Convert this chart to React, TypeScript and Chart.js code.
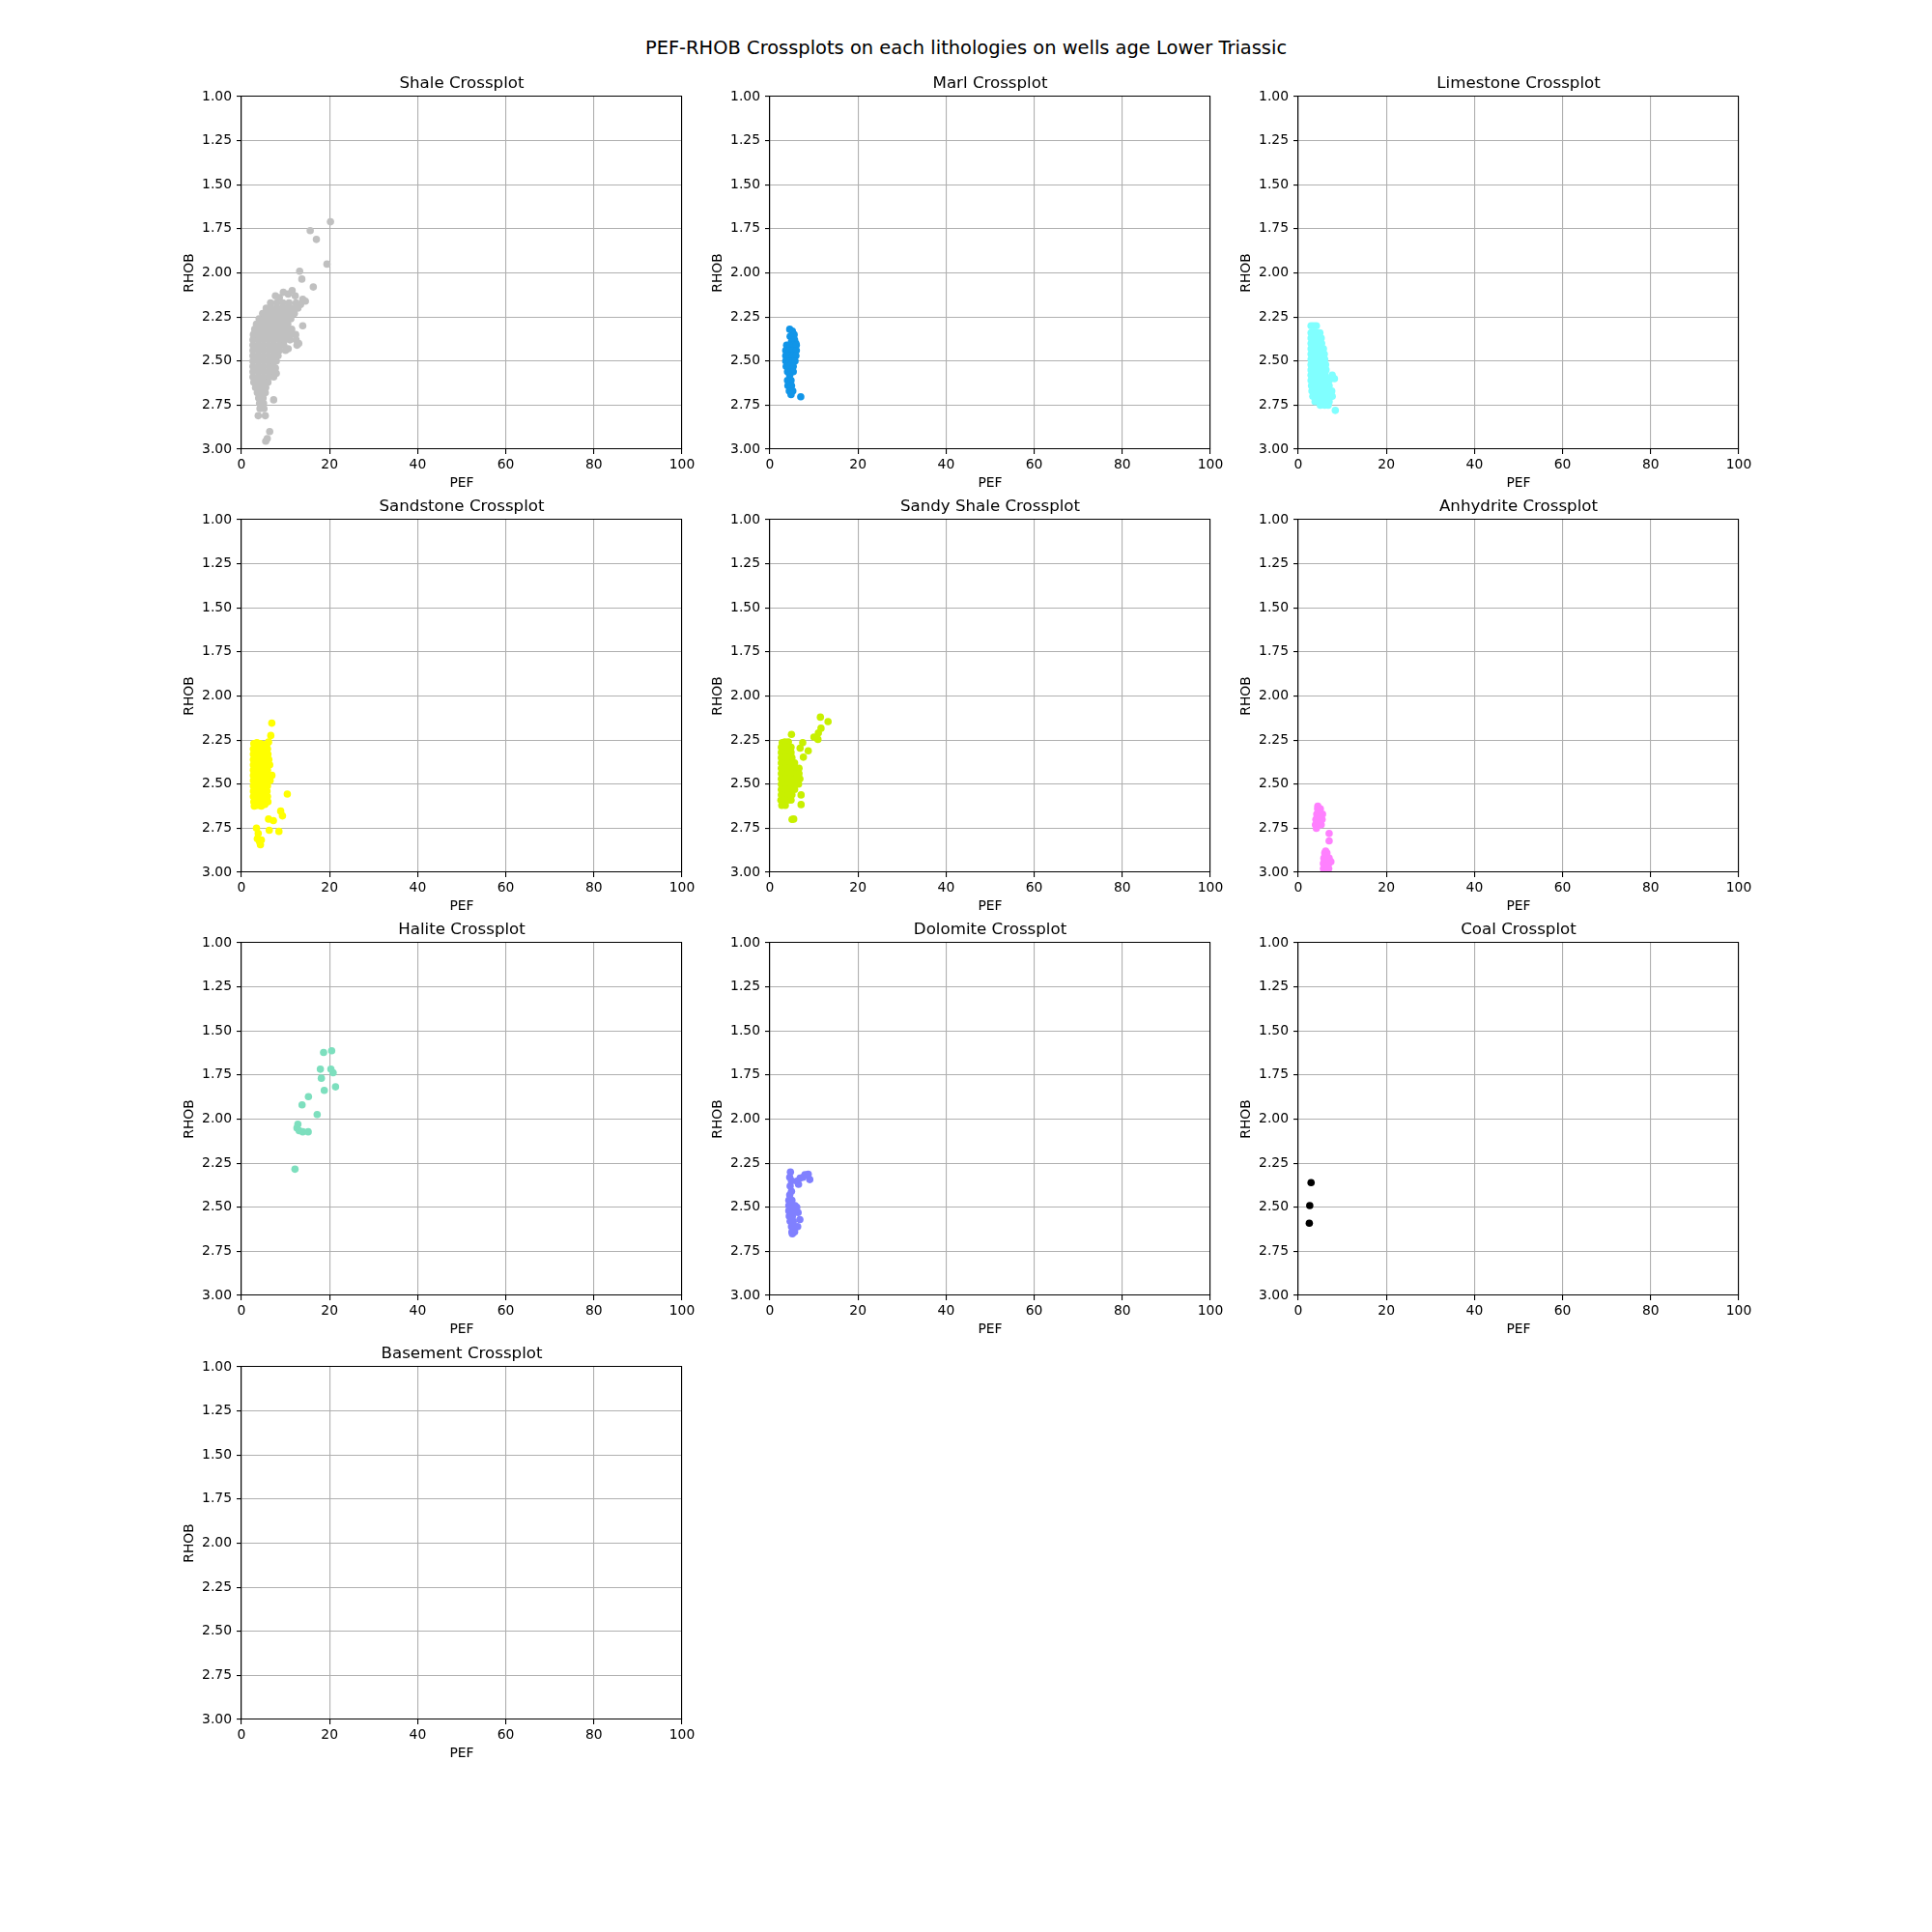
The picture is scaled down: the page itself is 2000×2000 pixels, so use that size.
import React, { useEffect, useRef } from "react";
import { Chart, registerables } from "chart.js";

Chart.register(...registerables);

const FONT = "'DejaVu Sans', sans-serif";

const suptitle = "PEF-RHOB Crossplots on each lithologies on wells age Lower Triassic";
const lithologies = ["Shale", "Marl", "Limestone", "Sandstone", "Sandy Shale", "Anhydrite", "Halite", "Dolomite", "Coal", "Basement"];
const colors = ["#c0c0c0", "#1195e8", "#80ffff", "#ffff00", "#c8f000", "#ff80ff", "#7ddfbe", "#8080ff", "#000000", "#ef138a"];
const pefTicks = [0, 20, 40, 60, 80, 100];
const rhobTicks = [1.0, 1.25, 1.5, 1.75, 2.0, 2.25, 2.5, 2.75, 3.0];
const xLabel = "PEF";
const yLabel = "RHOB";

// [PEF, RHOB]
const shalePoints: [number, number][] = [
  [20.2, 1.71], [15.6, 1.76], [17.0, 1.81], [19.4, 1.95], [13.2, 1.99], [13.7, 2.035], [16.3, 2.08],
  [11.5, 2.1], [9.5, 2.11], [10.6, 2.12], [7.7, 2.13], [12.2, 2.13], [8.6, 2.14], [13.9, 2.15], [14.5, 2.16],
  [6.6, 2.17], [8.0, 2.17], [9.4, 2.17], [10.8, 2.17], [12.4, 2.17], [13.4, 2.18],
  [5.6, 2.2], [6.8, 2.2], [8.0, 2.2], [9.2, 2.2], [10.4, 2.2], [11.6, 2.2], [12.8, 2.2],
  [4.8, 2.23], [6.0, 2.23], [7.2, 2.23], [8.4, 2.23], [9.6, 2.23], [10.8, 2.23], [12.0, 2.23],
  [4.0, 2.26], [5.2, 2.26], [6.4, 2.26], [7.6, 2.26], [8.8, 2.26], [10.0, 2.26], [11.2, 2.26],
  [3.4, 2.29], [4.6, 2.29], [5.8, 2.29], [7.0, 2.29], [8.2, 2.29], [9.4, 2.29], [10.5, 2.29],
  [13.9, 2.3],
  [3.0, 2.32], [4.2, 2.32], [5.4, 2.32], [6.6, 2.32], [7.8, 2.32], [9.0, 2.32], [10.2, 2.32], [11.4, 2.32],
  [2.7, 2.35], [3.9, 2.35], [5.1, 2.35], [6.3, 2.35], [7.5, 2.35], [8.7, 2.35], [9.9, 2.35], [11.1, 2.35], [12.3, 2.35],
  [2.6, 2.38], [3.8, 2.38], [5.0, 2.38], [6.2, 2.38], [7.4, 2.38], [8.6, 2.38], [9.8, 2.38], [11.0, 2.38], [12.4, 2.38],
  [2.6, 2.41], [3.8, 2.41], [5.0, 2.41], [6.2, 2.41], [7.4, 2.41], [8.6, 2.41], [9.6, 2.41], [12.6, 2.41], [13.0, 2.4],
  [2.6, 2.44], [3.8, 2.44], [5.0, 2.44], [6.2, 2.44], [7.4, 2.44], [8.6, 2.44], [10.0, 2.44], [10.6, 2.43],
  [2.6, 2.47], [3.8, 2.47], [5.0, 2.47], [6.2, 2.47], [7.4, 2.47], [8.3, 2.47],
  [2.6, 2.5], [3.8, 2.5], [5.0, 2.5], [6.2, 2.5], [7.4, 2.5], [7.9, 2.5],
  [2.6, 2.53], [3.8, 2.53], [5.0, 2.53], [6.2, 2.53], [7.2, 2.53], [7.7, 2.54],
  [2.6, 2.56], [3.8, 2.56], [5.0, 2.56], [6.2, 2.56], [7.4, 2.56], [7.9, 2.57],
  [2.6, 2.59], [3.8, 2.59], [5.0, 2.59], [6.2, 2.59], [7.3, 2.59],
  [2.8, 2.62], [4.0, 2.62], [5.2, 2.62], [6.0, 2.62],
  [3.2, 2.65], [4.4, 2.65], [5.5, 2.65],
  [3.6, 2.68], [4.6, 2.68], [5.4, 2.68],
  [3.9, 2.71], [4.9, 2.71], [7.3, 2.72],
  [4.1, 2.74], [5.0, 2.74], [4.2, 2.77], [5.1, 2.77],
  [3.8, 2.81], [5.4, 2.81], [6.4, 2.9], [5.85, 2.94], [5.5, 2.955],
];

const marlPoints: [number, number][] = [
  [4.5, 2.32], [5.1, 2.33], [5.5, 2.35], [4.6, 2.36], [5.6, 2.38], [5.9, 2.4], [4.9, 2.39],
  [3.8, 2.41], [4.6, 2.41], [5.4, 2.41], [6.0, 2.41],
  [3.6, 2.44], [4.4, 2.44], [5.2, 2.44], [6.0, 2.44],
  [3.6, 2.47], [4.4, 2.47], [5.2, 2.47], [5.9, 2.47],
  [3.6, 2.5], [4.4, 2.5], [5.2, 2.5], [5.7, 2.5],
  [3.7, 2.53], [4.5, 2.53], [5.3, 2.53],
  [4.0, 2.56], [4.8, 2.56], [5.3, 2.56], [4.5, 2.58],
  [4.0, 2.61], [4.8, 2.61], [4.1, 2.64], [4.9, 2.64],
  [4.4, 2.67], [5.2, 2.67], [4.8, 2.69], [7.0, 2.703],
];

const limestonePoints: [number, number][] = [
  [2.9, 2.3], [3.5, 2.3], [4.1, 2.3],
  [2.9, 2.34], [3.7, 2.34], [4.5, 2.34], [4.9, 2.34],
  [2.9, 2.37], [3.7, 2.37], [4.5, 2.37], [5.2, 2.37],
  [2.9, 2.4], [3.7, 2.4], [4.5, 2.4], [5.3, 2.4],
  [2.9, 2.43], [3.7, 2.43], [4.5, 2.43], [5.3, 2.43], [5.7, 2.43],
  [2.9, 2.46], [3.7, 2.46], [4.5, 2.46], [5.3, 2.46], [5.9, 2.46],
  [2.9, 2.49], [3.7, 2.49], [4.5, 2.49], [5.3, 2.49], [6.0, 2.49],
  [2.9, 2.52], [3.7, 2.52], [4.5, 2.52], [5.3, 2.52], [6.2, 2.52],
  [2.9, 2.55], [3.7, 2.55], [4.5, 2.55], [5.3, 2.55], [6.1, 2.55], [6.3, 2.55],
  [2.9, 2.58], [3.7, 2.58], [4.5, 2.58], [5.3, 2.58], [6.1, 2.58], [7.7, 2.58],
  [8.2, 2.6], [6.8, 2.6],
  [2.9, 2.61], [3.7, 2.61], [4.5, 2.61], [5.3, 2.61], [6.1, 2.61], [7.0, 2.61],
  [3.0, 2.64], [3.8, 2.64], [4.6, 2.64], [5.4, 2.64], [6.2, 2.64], [7.0, 2.64],
  [3.1, 2.67], [3.9, 2.67], [4.7, 2.67], [5.5, 2.67], [6.3, 2.67], [7.1, 2.67], [7.6, 2.67],
  [3.3, 2.7], [4.1, 2.7], [4.9, 2.7], [5.7, 2.7], [6.5, 2.7], [7.3, 2.7], [7.7, 2.7],
  [3.8, 2.73], [4.6, 2.73], [5.4, 2.73], [6.2, 2.73], [7.0, 2.73],
  [5.0, 2.75], [6.0, 2.75], [6.8, 2.75], [8.4, 2.78],
];

const sandstonePoints: [number, number][] = [
  [6.88, 2.154], [6.65, 2.224], [6.14, 2.261],
  [2.8, 2.27], [3.5, 2.265], [4.3, 2.27], [5.1, 2.275], [5.7, 2.28],
  [2.7, 2.3], [3.5, 2.3], [4.3, 2.3], [5.1, 2.3], [5.9, 2.3],
  [2.7, 2.33], [3.5, 2.33], [4.3, 2.33], [5.1, 2.33], [6.0, 2.33],
  [2.7, 2.36], [3.5, 2.36], [4.3, 2.36], [5.1, 2.36], [5.9, 2.36], [6.2, 2.36],
  [2.7, 2.39], [3.5, 2.39], [4.3, 2.39], [5.1, 2.39], [5.9, 2.39], [6.4, 2.39],
  [2.7, 2.42], [3.5, 2.42], [4.3, 2.42], [5.1, 2.42], [5.9, 2.42],
  [2.7, 2.45], [3.5, 2.45], [4.3, 2.45], [5.1, 2.45], [5.9, 2.45], [6.9, 2.45],
  [2.7, 2.48], [3.5, 2.48], [4.3, 2.48], [5.1, 2.48], [5.9, 2.48], [6.5, 2.48],
  [2.7, 2.51], [3.5, 2.51], [4.3, 2.51], [5.1, 2.51], [5.9, 2.51],
  [2.7, 2.54], [3.5, 2.54], [4.3, 2.54], [5.1, 2.54], [5.8, 2.54],
  [2.7, 2.57], [3.5, 2.57], [4.3, 2.57], [5.1, 2.57], [5.9, 2.57],
  [2.8, 2.6], [3.6, 2.6], [4.4, 2.6], [5.2, 2.6], [6.0, 2.6],
  [2.9, 2.625], [3.7, 2.62], [4.5, 2.625], [5.3, 2.615],
  [10.4, 2.556], [8.9, 2.653], [9.3, 2.68], [6.14, 2.698], [7.24, 2.707], [6.3, 2.762], [8.5, 2.768],
  [3.4, 2.749], [3.8, 2.78], [3.6, 2.81], [4.1, 2.826], [4.5, 2.817], [4.3, 2.844],
];

const sandyShalePoints: [number, number][] = [
  [11.46, 2.12], [13.2, 2.145], [11.6, 2.183], [11.0, 2.21], [10.0, 2.233], [10.9, 2.246],
  [4.9, 2.218], [7.45, 2.265], [6.86, 2.296], [8.7, 2.311], [7.6, 2.347],
  [2.8, 2.265], [3.4, 2.26], [4.2, 2.26],
  [2.6, 2.29], [3.4, 2.29], [4.2, 2.29], [4.8, 2.29],
  [2.6, 2.32], [3.4, 2.32], [4.2, 2.32], [4.8, 2.32],
  [2.6, 2.35], [3.4, 2.35], [4.2, 2.35], [5.0, 2.35],
  [2.6, 2.38], [3.4, 2.38], [4.2, 2.38], [5.0, 2.38], [5.6, 2.38],
  [2.6, 2.41], [3.4, 2.41], [4.2, 2.41], [5.0, 2.41], [5.8, 2.41], [6.6, 2.41],
  [2.6, 2.44], [3.4, 2.44], [4.2, 2.44], [5.0, 2.44], [5.8, 2.44], [6.6, 2.44],
  [2.6, 2.47], [3.4, 2.47], [4.2, 2.47], [5.0, 2.47], [5.8, 2.47], [6.8, 2.47],
  [2.6, 2.5], [3.4, 2.5], [4.2, 2.5], [5.0, 2.5], [5.8, 2.5], [6.5, 2.5],
  [2.6, 2.53], [3.4, 2.53], [4.2, 2.53], [5.0, 2.53], [5.6, 2.53],
  [2.6, 2.56], [3.4, 2.56], [4.2, 2.56], [5.0, 2.56],
  [2.5, 2.59], [3.3, 2.59], [4.1, 2.59], [4.8, 2.59],
  [2.7, 2.62], [3.5, 2.62],
  [7.08, 2.561], [7.08, 2.616], [5.4, 2.698], [5.03, 2.7],
];

const anhydritePoints: [number, number][] = [
  [4.43, 2.625], [4.4, 2.64], [5.0, 2.64],
  [4.2, 2.67], [4.9, 2.67], [5.5, 2.67],
  [4.0, 2.7], [4.7, 2.7], [5.4, 2.7],
  [3.9, 2.73], [4.6, 2.73], [5.2, 2.73], [4.1, 2.75],
  [7.0, 2.78], [7.0, 2.822],
  [6.2, 2.88], [6.0, 2.89], [6.5, 2.89],
  [5.8, 2.92], [6.4, 2.92], [7.0, 2.92],
  [5.7, 2.95], [6.3, 2.95], [6.9, 2.95], [7.4, 2.94],
  [5.7, 2.98], [6.3, 2.98], [6.9, 2.98],
];

const halitePoints: [number, number][] = [
  [18.64, 1.622], [20.47, 1.612], [17.9, 1.717], [20.3, 1.717], [20.8, 1.737], [18.13, 1.768],
  [21.35, 1.817], [18.79, 1.837], [15.2, 1.873], [13.75, 1.919], [17.18, 1.974], [12.8, 2.029],
  [12.6, 2.05], [13.1, 2.066], [13.9, 2.072], [15.14, 2.072], [12.14, 2.284],
];

const dolomitePoints: [number, number][] = [
  [4.66, 2.3], [4.5, 2.33], [4.9, 2.35], [4.6, 2.38], [4.9, 2.41], [4.5, 2.43],
  [6.13, 2.352], [6.86, 2.334], [7.96, 2.316], [8.7, 2.312], [9.05, 2.343], [7.5, 2.33], [6.5, 2.37],
  [4.3, 2.46], [5.0, 2.46],
  [4.3, 2.49], [5.0, 2.49], [5.7, 2.49], [6.1, 2.5],
  [4.3, 2.52], [5.0, 2.52], [5.8, 2.52], [6.4, 2.53],
  [4.4, 2.55], [5.1, 2.55], [6.8, 2.57],
  [4.6, 2.58], [5.3, 2.58],
  [4.9, 2.61], [5.6, 2.61], [6.3, 2.61],
  [5.0, 2.64], [5.6, 2.64], [5.1, 2.65],
];

const coalPoints: [number, number][] = [
  [2.9, 2.36], [2.6, 2.49], [2.5, 2.59],
];

const basementPoints: [number, number][] = [];

const pointSets = [shalePoints, marlPoints, limestonePoints, sandstonePoints, sandyShalePoints, anhydritePoints, halitePoints, dolomitePoints, coalPoints, basementPoints];

// layout (figure pixels)
const COL_LEFT = [250, 797, 1344];
const ROW_TOP = [100, 538, 976, 1415];
const AX_W = 456;
const AX_H = 365;
const M_LEFT = 80;
const M_TOP = 40;
const M_RIGHT = 30;
const M_BOTTOM = 55;

function alignPx(p: number, w: number) {
  const h = w / 2;
  return Math.round(p - h) + h;
}

const framePlugin = {
  id: "frame",
  afterDatasetsDraw(chart: any) {
    const { ctx, chartArea: a } = chart;
    const w = 1.1;
    const l = alignPx(a.left, w);
    const r = alignPx(a.right, w);
    const t = alignPx(a.top, w);
    const b = alignPx(a.bottom, w);
    ctx.save();
    ctx.strokeStyle = "#000";
    ctx.lineWidth = w;
    ctx.beginPath();
    ctx.rect(l, t, r - l, b - t);
    ctx.stroke();
    ctx.restore();
  },
};

function Crossplot({ index }: { index: number }) {
  const ref = useRef<HTMLCanvasElement>(null);
  const col = index % 3;
  const row = Math.floor(index / 3);
  const left = COL_LEFT[col] - M_LEFT;
  const top = ROW_TOP[row] - M_TOP;
  const W = M_LEFT + AX_W + M_RIGHT;
  const H = M_TOP + AX_H + M_BOTTOM;

  useEffect(() => {
    const tickFont = { family: FONT, size: 13.89, lineHeight: 1.2 };
    const chart = new Chart(ref.current as HTMLCanvasElement, {
      type: "scatter",
      data: {
        datasets: [
          {
            data: pointSets[index].map(([x, y]) => ({ x, y })),
            backgroundColor: colors[index],
            borderWidth: 0,
            pointRadius: 3.8,
            pointHoverRadius: 3.8,
          },
        ],
      },
      options: {
        responsive: false,
        animation: false,
        events: [],
        layout: { padding: { left: 0, top: 0, right: M_RIGHT, bottom: 0 } },
        plugins: {
          legend: { display: false },
          tooltip: { enabled: false },
          title: {
            display: true,
            fullSize: false,
            text: lithologies[index] + " Crossplot",
            color: "#000",
            font: { family: FONT, size: 16.67, weight: "normal", lineHeight: 1.2 },
            padding: { top: 16.7, bottom: 3.3 },
          },
        },
        scales: {
          x: {
            type: "linear",
            position: "bottom",
            min: 0,
            max: 100,
            afterFit: (s: any) => {
              s.height = M_BOTTOM;
            },
            afterBuildTicks: (s: any) => {
              s.ticks = pefTicks.map((v) => ({ value: v }));
            },
            ticks: {
              color: "#000",
              font: tickFont,
              padding: 3,
              maxRotation: 0,
              autoSkip: false,
              callback: (v: any) => String(v),
            },
            grid: { color: "#b0b0b0", lineWidth: 1.1, tickColor: "#000", tickLength: 5, tickWidth: 1.1 },
            border: { color: "#000", width: 1.1 },
            title: {
              display: true,
              text: xLabel,
              color: "#000",
              font: tickFont,
              padding: { top: 0, bottom: 11.2 },
            },
          },
          y: {
            type: "linear",
            position: "left",
            reverse: true,
            min: 1,
            max: 3,
            afterFit: (s: any) => {
              s.width = M_LEFT;
            },
            afterBuildTicks: (s: any) => {
              s.ticks = rhobTicks.map((v) => ({ value: v }));
            },
            ticks: {
              color: "#000",
              font: tickFont,
              padding: 5,
              autoSkip: false,
              callback: (v: any) => Number(v).toFixed(2),
            },
            grid: { color: "#b0b0b0", lineWidth: 1.1, tickColor: "#000", tickLength: 5, tickWidth: 1.1 },
            border: { color: "#000", width: 1.1 },
            title: {
              display: true,
              text: yLabel,
              color: "#000",
              font: tickFont,
              padding: { top: 18, bottom: 0 },
            },
          },
        },
      } as any,
      plugins: [framePlugin],
    });
    return () => chart.destroy();
  }, [index]);

  return (
    <canvas
      ref={ref}
      width={W}
      height={H}
      style={{ position: "absolute", left, top, width: W, height: H }}
    />
  );
}

export default function App() {
  return (
    <div style={{ position: "absolute", left: 0, top: 0, width: 2000, height: 2000, background: "#fff" }}>
      <div
        style={{
          position: "absolute",
          left: 0,
          top: 39.5,
          width: 2000,
          textAlign: "center",
          fontFamily: FONT,
          fontSize: "19.44px",
          lineHeight: "20px",
          color: "#000",
        }}
      >
        {suptitle}
      </div>
      {lithologies.map((_, i) => (
        <Crossplot key={i} index={i} />
      ))}
    </div>
  );
}
